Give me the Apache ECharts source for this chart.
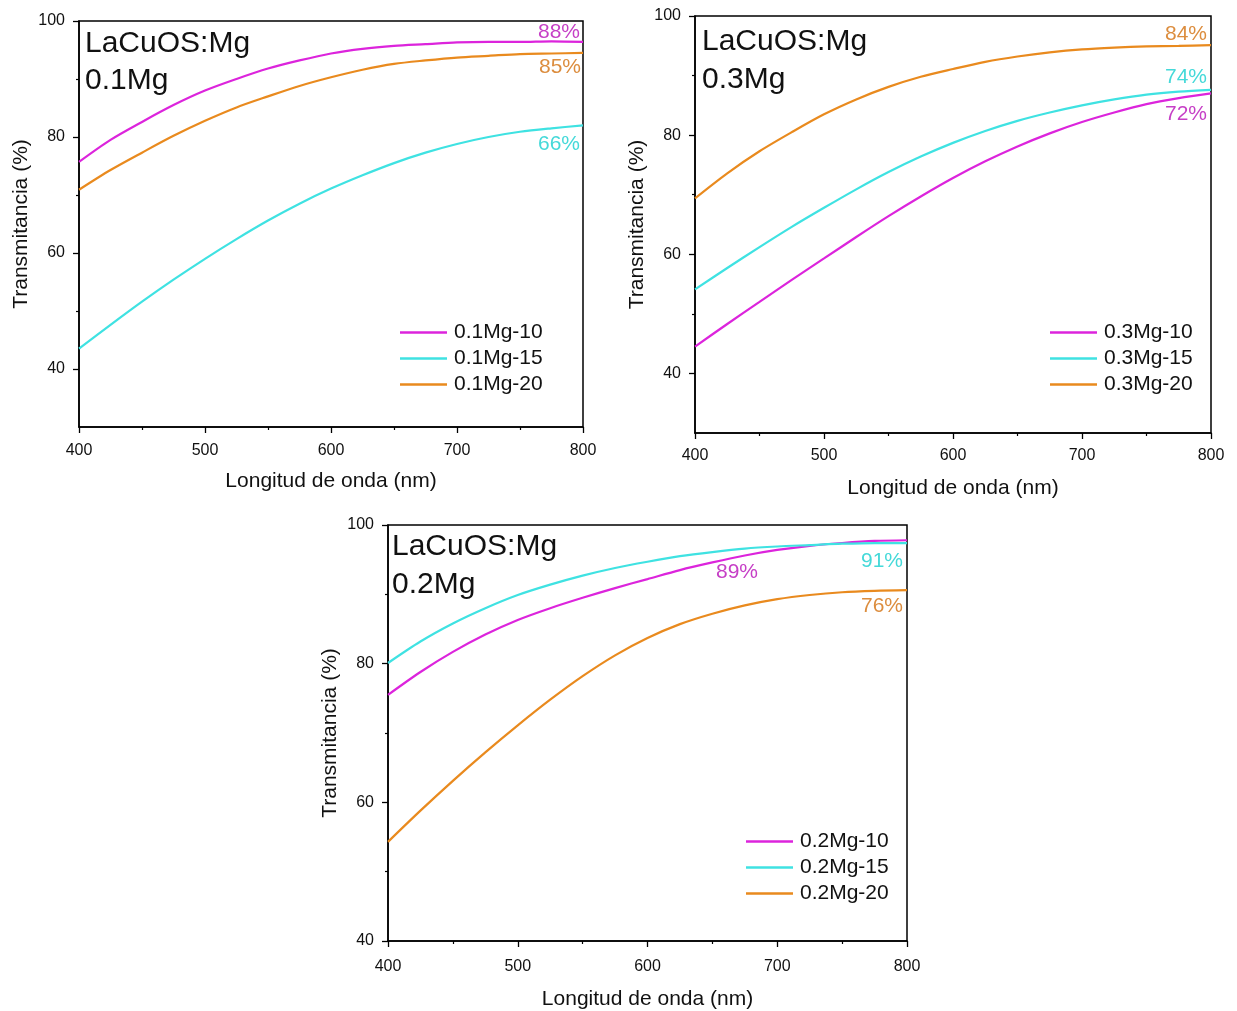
<!DOCTYPE html>
<html>
<head>
<meta charset="utf-8">
<script src="https://cdn.jsdelivr.net/npm/echarts@6/dist/echarts.min.js"></script>
<style>
html,body{margin:0;padding:0;background:#fff;}
#c{width:1237px;height:1011px;}
</style>
</head>
<body>
<div id="c"></div>
<script>
// wavelength (nm)
const wavelength = [400,425,450,475,500,525,550,575,600,625,650,675,700,725,750,775,800];
// Panel 0.1Mg
const mg01_10 = [75.7,79.5,82.6,85.5,88.0,90.0,91.8,93.2,94.4,95.2,95.7,96.0,96.3,96.4,96.4,96.5,96.4];
const mg01_15 = [43.5,47.6,51.6,55.4,59.0,62.4,65.6,68.5,71.1,73.4,75.5,77.3,78.8,80.0,80.9,81.5,82.0];
const mg01_20 = [70.9,74.3,77.3,80.2,82.8,85.1,87.0,88.8,90.3,91.6,92.6,93.2,93.7,94.0,94.3,94.4,94.5];
// Panel 0.3Mg
const mg03_10 = [44.5,48.3,52.0,55.7,59.3,62.9,66.4,69.7,72.8,75.6,78.1,80.3,82.2,83.8,85.2,86.2,87.0];
const mg03_15 = [54.1,57.7,61.2,64.6,67.8,70.9,73.8,76.4,78.7,80.7,82.4,83.8,85.0,86.0,86.8,87.3,87.6];
const mg03_20 = [69.4,73.6,77.3,80.5,83.5,86.0,88.1,89.8,91.1,92.3,93.2,93.9,94.4,94.7,94.9,95.0,95.1];
// Panel 0.2Mg
const mg02_10 = [75.5,78.8,81.7,84.2,86.3,88.0,89.5,90.9,92.2,93.5,94.6,95.6,96.4,97.0,97.4,97.7,97.8];
const mg02_15 = [80.1,83.2,85.8,88.0,89.9,91.4,92.7,93.8,94.7,95.5,96.1,96.6,96.9,97.1,97.3,97.4,97.4];
const mg02_20 = [54.3,58.8,63.1,67.2,71.1,74.8,78.2,81.2,83.7,85.7,87.2,88.4,89.3,89.9,90.3,90.5,90.6];

const yTicksMajor = [40,60,80,100];
const yTicksMinor = [50,70,90];

const FONT = '"Liberation Sans", Arial, sans-serif';
const C_MAG = '#dc24dc', C_CYA = '#3fe2e2', C_ORA = '#e98a1e';
const L_MAG = '#c63fc6', L_CYA = '#45d9d9', L_ORA = '#dc8d3e';

const chart = echarts.init(document.getElementById('c'), null, {renderer:'canvas'});

const grids = [
  {left:79, top:21, width:504, height:406},
  {left:695, top:16, width:516, height:417},
  {left:388, top:525, width:519, height:417}
];
const yMins = [30,30,40];

function mkX(gi){
  return {type:'value', gridIndex:gi, min:400, max:800, interval:100,
    name:'Longitud de onda (nm)', nameLocation:'middle', nameGap:[44,45,48][gi],
    nameTextStyle:{fontFamily:FONT, fontSize:21, color:'#111'},
    axisLine:{show:true, lineStyle:{color:'#000', width:1.5}},
    axisTick:{show:true, inside:false, length:6, lineStyle:{color:'#000', width:1.3}},
    minorTick:{show:true, splitNumber:2, length:3, lineStyle:{color:'#000', width:1.2}},
    axisLabel:{fontFamily:FONT, fontSize:16, color:'#111', margin:[16,15,18][gi]},
    splitLine:{show:false}};
}
function mkY(gi){
  return {type:'value', gridIndex:gi, min:yMins[gi], max:100, interval:10,
    name:'Transmitancia (%)', nameLocation:'middle', nameGap:47,
    nameTextStyle:{fontFamily:FONT, fontSize:21, color:'#111'},
    axisLine:{show:true, lineStyle:{color:'#000', width:1.5}},
    axisTick:{show:true, length:6, customValues:yTicksMajor, lineStyle:{color:'#000', width:1.3}},
    axisLabel:{fontFamily:FONT, fontSize:16, color:'#111', margin:14, customValues:yTicksMajor,
      formatter:v => (v % 20 === 0 ? String(v) : '')},
    splitLine:{show:false}};
}
function mkYMinor(gi){
  return {type:'value', gridIndex:gi, min:yMins[gi], max:100, interval:10, position:'left',
    axisLine:{show:false},
    axisTick:{show:true, length:3, customValues:yTicksMinor, lineStyle:{color:'#000', width:1.2}},
    axisLabel:{show:false}, splitLine:{show:false}};
}

function ser(name, arr, color, xi, yi){
  return {type:'line', name:name, xAxisIndex:xi, yAxisIndex:yi, showSymbol:false, smooth:0.3,
    data: wavelength.map((w,i)=>[w, arr[i]]), color:color,
    lineStyle:{color:color, width:2.2}, z:3};
}

function legend(names, left, top){
  return {show:true, orient:'vertical', left:left, top:top, padding:0, data:names, icon:'rect',
    itemWidth:47, itemHeight:2.5, itemGap:5, selectedMode:false,
    textStyle:{fontFamily:FONT, fontSize:21, color:'#111', lineHeight:21, padding:[0,0,0,2]}};
}

function txt(s, x, y, size, color, align){
  return {type:'text', x:x, y:y, z:10, style:{text:s, fill:color, font: size+'px '+FONT,
    textAlign:align||'left', textVerticalAlign:'middle', verticalAlign:'middle'}};
}

const option = {
  backgroundColor:'#fff',
  animation:false,
  grid: grids.map(g => Object.assign({show:true, borderColor:'#000', borderWidth:1.5, backgroundColor:'transparent', containLabel:false}, g)),
  xAxis: [mkX(0), mkX(1), mkX(2)],
  yAxis: [mkY(0), mkY(1), mkY(2), mkYMinor(0), mkYMinor(1), mkYMinor(2)],
  legend: [
    legend(['0.1Mg-10','0.1Mg-15','0.1Mg-20'], 400, 322),
    legend(['0.3Mg-10','0.3Mg-15','0.3Mg-20'], 1050, 322),
    legend(['0.2Mg-10','0.2Mg-15','0.2Mg-20'], 746, 831)
  ],
  series: [
    ser('0.1Mg-10', mg01_10, C_MAG, 0, 0),
    ser('0.1Mg-15', mg01_15, C_CYA, 0, 0),
    ser('0.1Mg-20', mg01_20, C_ORA, 0, 0),
    ser('0.3Mg-10', mg03_10, C_MAG, 1, 1),
    ser('0.3Mg-15', mg03_15, C_CYA, 1, 1),
    ser('0.3Mg-20', mg03_20, C_ORA, 1, 1),
    ser('0.2Mg-10', mg02_10, C_MAG, 2, 2),
    ser('0.2Mg-15', mg02_15, C_CYA, 2, 2),
    ser('0.2Mg-20', mg02_20, C_ORA, 2, 2)
  ],
  graphic: [
    txt('LaCuOS:Mg', 85, 44, 30, '#111'),
    txt('0.1Mg', 85, 81, 30, '#111'),
    txt('LaCuOS:Mg', 702, 42, 30, '#111'),
    txt('0.3Mg', 702, 80, 30, '#111'),
    txt('LaCuOS:Mg', 392, 547, 30, '#111'),
    txt('0.2Mg', 392, 585, 30, '#111'),
    txt('88%', 580, 32, 21, L_MAG, 'right'),
    txt('85%', 581, 67, 21, L_ORA, 'right'),
    txt('66%', 580, 144, 21, L_CYA, 'right'),
    txt('84%', 1207, 34, 21, L_ORA, 'right'),
    txt('74%', 1207, 77, 21, L_CYA, 'right'),
    txt('72%', 1207, 114, 21, L_MAG, 'right'),
    txt('89%', 758, 572, 21, L_MAG, 'right'),
    txt('91%', 903, 561, 21, L_CYA, 'right'),
    txt('76%', 903, 606, 21, L_ORA, 'right')
  ]
};
chart.setOption(option);
</script>
</body>
</html>
